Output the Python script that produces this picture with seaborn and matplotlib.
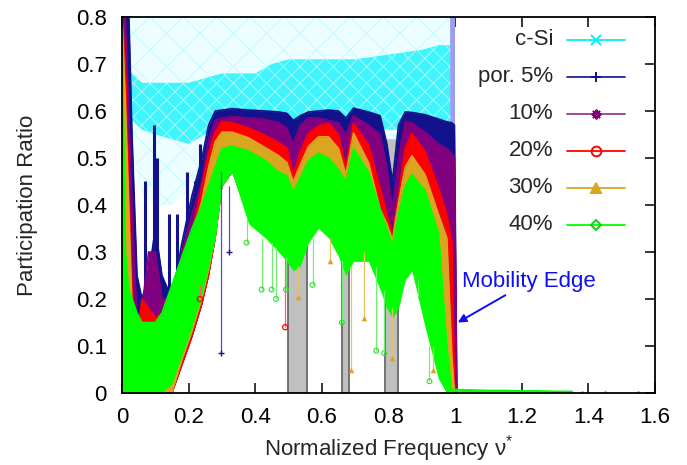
import numpy as np
import matplotlib
matplotlib.use("Agg")
import matplotlib.pyplot as plt
import seaborn as sns

sns.set_theme(style="ticks")
plt.rcParams["font.family"] = ["Liberation Sans", "DejaVu Sans"]
plt.rcParams["mathtext.fontset"] = "custom"
plt.rcParams["mathtext.rm"] = "Liberation Sans"
plt.rcParams["hatch.linewidth"] = 0.5

# ---------------- data ----------------
X = [0.000, 0.010, 0.020, 0.030, 0.045, 0.060, 0.080, 0.100, 0.120, 0.150,
     0.180, 0.210, 0.240, 0.260, 0.280, 0.300, 0.330, 0.380, 0.430, 0.470,
     0.495, 0.514, 0.535, 0.560, 0.590, 0.620, 0.650, 0.672, 0.695, 0.740,
     0.775, 0.795, 0.812, 0.830, 0.850, 0.870, 0.910, 0.950, 0.975, 0.990,
     0.998, 1.005]

BLUE_HI = [0.85, 0.85, 0.82, 0.55, 0.25, 0.20, 0.25, 0.35, 0.25, 0.20,
           0.32, 0.42, 0.50, 0.57, 0.600, 0.602, 0.605, 0.602, 0.600, 0.598,
           0.595, 0.580, 0.590, 0.598, 0.600, 0.602, 0.600, 0.585, 0.606, 0.598,
           0.590, 0.530, 0.450, 0.570, 0.598, 0.597, 0.592, 0.583, 0.577, 0.575,
           0.570, 0.0]
BLUE_LO = [0.0, 0.0, 0.0, 0.0, 0.0, 0.0, 0.0, 0.0, 0.0, 0.0,
           0.06, 0.12, 0.19, 0.25, 0.33, 0.44, 0.47, 0.37, 0.34, 0.31,
           0.29, 0.27, 0.28, 0.33, 0.36, 0.34, 0.30, 0.26, 0.29, 0.29,
           0.23, 0.19, 0.17, 0.19, 0.25, 0.27, 0.15, 0.04, 0.0, 0.0,
           0.0, 0.0]

PURPLE_HI = [0.85, 0.80, 0.60, 0.40, 0.15, 0.18, 0.30, 0.30, 0.20, 0.20,
             0.30, 0.38, 0.45, 0.54, 0.580, 0.585, 0.588, 0.585, 0.582, 0.575,
             0.564, 0.530, 0.570, 0.585, 0.585, 0.580, 0.575, 0.550, 0.590, 0.570,
             0.550, 0.480, 0.390, 0.500, 0.578, 0.575, 0.555, 0.530, 0.520, 0.510,
             0.500, 0.0]
PURPLE_LO = [0.0, 0.0, 0.0, 0.0, 0.0, 0.0, 0.0, 0.0, 0.0, 0.0,
             0.06, 0.12, 0.19, 0.25, 0.33, 0.44, 0.47, 0.37, 0.34, 0.31,
             0.29, 0.27, 0.28, 0.33, 0.36, 0.34, 0.30, 0.26, 0.29, 0.29,
             0.23, 0.19, 0.17, 0.19, 0.25, 0.27, 0.15, 0.04, 0.0, 0.0,
             0.0, 0.0]

RED_HI = [0.80, 0.70, 0.45, 0.22, 0.12, 0.20, 0.18, 0.16, 0.17, 0.22,
          0.28, 0.34, 0.44, 0.51, 0.555, 0.578, 0.575, 0.564, 0.548, 0.533,
          0.521, 0.464, 0.513, 0.553, 0.568, 0.574, 0.550, 0.480, 0.574, 0.527,
          0.436, 0.380, 0.335, 0.420, 0.520, 0.553, 0.513, 0.436, 0.380, 0.320,
          0.020, 0.0]
RED_LO = [0.0, 0.0, 0.0, 0.0, 0.0, 0.0, 0.0, 0.0, 0.0, 0.0,
          0.06, 0.12, 0.19, 0.25, 0.33, 0.44, 0.47, 0.37, 0.34, 0.31,
          0.29, 0.27, 0.28, 0.33, 0.36, 0.34, 0.30, 0.26, 0.29, 0.29,
          0.23, 0.19, 0.17, 0.19, 0.25, 0.27, 0.15, 0.04, 0.0, 0.0,
          0.0, 0.0]

ORANGE_HI = [0.80, 0.62, 0.40, 0.18, 0.12, 0.15, 0.14, 0.14, 0.16, 0.21,
             0.27, 0.33, 0.41, 0.48, 0.535, 0.555, 0.555, 0.543, 0.522, 0.505,
             0.490, 0.449, 0.485, 0.525, 0.545, 0.545, 0.520, 0.464, 0.553, 0.490,
             0.390, 0.360, 0.325, 0.405, 0.480, 0.505, 0.464, 0.380, 0.330, 0.080,
             0.0, 0.0]
ORANGE_LO = [0.0, 0.0, 0.0, 0.0, 0.0, 0.0, 0.0, 0.0, 0.0, 0.0,
             0.07, 0.13, 0.20, 0.26, 0.33, 0.44, 0.47, 0.37, 0.34, 0.31,
             0.29, 0.27, 0.28, 0.33, 0.36, 0.34, 0.30, 0.26, 0.29, 0.29,
             0.23, 0.19, 0.17, 0.19, 0.25, 0.27, 0.15, 0.04, 0.0, 0.0,
             0.0, 0.0]

GREEN_HI = [0.80, 0.30, 0.22, 0.20, 0.17, 0.15, 0.15, 0.15, 0.17, 0.23,
            0.29, 0.35, 0.40, 0.44, 0.48, 0.520, 0.525, 0.515, 0.495, 0.470,
            0.462, 0.428, 0.457, 0.495, 0.510, 0.500, 0.475, 0.449, 0.520, 0.470,
            0.390, 0.350, 0.315, 0.380, 0.440, 0.465, 0.430, 0.340, 0.100, 0.0,
            0.0, 0.0]
GREEN_LO = [0.0, 0.0, 0.0, 0.0, 0.0, 0.0, 0.0, 0.0, 0.0, 0.02,
            0.08, 0.14, 0.21, 0.27, 0.33, 0.44, 0.47, 0.36, 0.33, 0.30,
            0.28, 0.26, 0.27, 0.32, 0.35, 0.33, 0.29, 0.25, 0.28, 0.28,
            0.22, 0.18, 0.16, 0.18, 0.24, 0.26, 0.14, 0.03, 0.0, 0.0,
            0.0, 0.0]

# crystalline Si cloud
CSI_X = [0.010, 0.030, 0.060, 0.100, 0.150, 0.200, 0.250, 0.300, 0.400,
         0.450, 0.500, 0.600, 0.700, 0.800, 0.900, 0.950, 0.985]
CSI_DENSE_LO = [0.62, 0.58, 0.56, 0.55, 0.54, 0.53, 0.55, 0.58, 0.58,
                0.58, 0.57, 0.57, 0.57, 0.56, 0.56, 0.55, 0.55]
CSI_DENSE_HI = [0.70, 0.68, 0.66, 0.66, 0.66, 0.66, 0.67, 0.68, 0.68,
                0.70, 0.71, 0.71, 0.71, 0.72, 0.73, 0.74, 0.74]
CSI_SPARSE_LO = [0.60, 0.50, 0.42, 0.40, 0.40, 0.43, 0.48, 0.55, 0.56,
                 0.56, 0.55, 0.55, 0.55, 0.54, 0.54, 0.53, 0.53]
CSI_SPARSE_HI = [0.80, 0.80, 0.80, 0.80, 0.80, 0.80, 0.80, 0.80, 0.80,
                 0.80, 0.80, 0.80, 0.80, 0.80, 0.80, 0.80, 0.80]

# isolated spikes
BLUE_UP_X = [0.070, 0.095, 0.105, 0.140, 0.165, 0.195, 0.220, 0.235]
BLUE_UP_TOP = [0.45, 0.57, 0.50, 0.38, 0.38, 0.47, 0.45, 0.53]
BLUE_UP_BOT = [0.05, 0.10, 0.10, 0.10, 0.15, 0.25, 0.30, 0.35]
BLUE_DN_X = [0.296, 0.320]
BLUE_DN_TOP = [0.47, 0.44]
BLUE_DN_BOT = [0.085, 0.30]

GREEN_SPK_X = [0.374, 0.419, 0.449, 0.462, 0.492, 0.572, 0.660, 0.763, 0.787, 0.890, 0.923]
GREEN_SPK_TOP = [0.37, 0.33, 0.32, 0.31, 0.29, 0.33, 0.28, 0.27, 0.22, 0.20, 0.10]
GREEN_SPK_BOT = [0.32, 0.22, 0.22, 0.20, 0.22, 0.23, 0.15, 0.09, 0.085, 0.24, 0.025]

ORANGE_SPK_X = [0.528, 0.623, 0.686, 0.726, 0.811, 0.935]
ORANGE_SPK_TOP = [0.27, 0.33, 0.27, 0.30, 0.18, 0.10]
ORANGE_SPK_BOT = [0.205, 0.28, 0.05, 0.16, 0.075, 0.05]

RED_SPK_X = [0.234, 0.490]
RED_SPK_TOP = [0.23, 0.29]
RED_SPK_BOT = [0.20, 0.14]

TAIL_X = [0.985, 1.05, 1.10, 1.15, 1.20, 1.25, 1.30, 1.35]
TAIL_Y = [0.006, 0.005, 0.004, 0.004, 0.003, 0.003, 0.002, 0.002]
TAIL_DOT_X = [1.38, 1.45, 1.55]
TAIL_DOT_Y = [0.003, 0.003, 0.003]

GAPS = [(0.497, 0.554), (0.661, 0.682), (0.790, 0.829)]
EDGE_BAND = (0.984, 1.000)

LABELS = ["c-Si", "por. 5%", "10%", "20%", "30%", "40%"]
XTICKS = [0, 0.2, 0.4, 0.6, 0.8, 1.0, 1.2, 1.4, 1.6]
XTICK_LABELS = ["0", "0.2", "0.4", "0.6", "0.8", "1", "1.2", "1.4", "1.6"]
YTICKS = [0, 0.1, 0.2, 0.3, 0.4, 0.5, 0.6, 0.7, 0.8]
YTICK_LABELS = ["0", "0.1", "0.2", "0.3", "0.4", "0.5", "0.6", "0.7", "0.8"]

# ---------------- styles ----------------
C_CYAN = "#00f0f8"
C_NAVY = "#12128c"
C_PURPLE = "#800080"
C_RED = "#ff0000"
C_ORANGE = "#daa520"
C_GREEN = "#00ff00"

fig, ax = plt.subplots(figsize=(6.87, 4.65), dpi=100)
fig.subplots_adjust(left=122 / 687, right=655 / 687, top=1 - 17 / 465, bottom=1 - 393 / 465)

for lo, hi in GAPS:
    ax.axvspan(lo, hi, facecolor="#c0c0c0", edgecolor="#6a6a6a", lw=1.3, zorder=1)
ax.axvspan(EDGE_BAND[0], EDGE_BAND[1], facecolor="#9c9cf4", edgecolor="none", zorder=1.5)

# c-Si cloud: faint sparse halo plus denser core
ax.fill_between(CSI_X, CSI_SPARSE_LO, CSI_SPARSE_HI, facecolor="#ecfeff",
                edgecolor="#b4fafc", hatch="x", linewidth=0, zorder=2)
ax.fill_between(CSI_X, CSI_DENSE_LO, CSI_DENSE_HI, facecolor="#3ff4fa",
                edgecolor="#c8fcfe", hatch="xx", linewidth=0, zorder=2.1)

series = [
    (BLUE_LO, BLUE_HI, C_NAVY, 3),
    (PURPLE_LO, PURPLE_HI, C_PURPLE, 4),
    (RED_LO, RED_HI, C_RED, 5),
    (ORANGE_LO, ORANGE_HI, C_ORANGE, 6),
    (GREEN_LO, GREEN_HI, C_GREEN, 7),
]
for lo, hi, col, z in series:
    ax.fill_between(X, lo, hi, color=col, linewidth=0, zorder=z)
    sns.lineplot(x=X, y=hi, color=col, lw=1.2, estimator=None, ax=ax,
                 zorder=z, legend=False)

# blue spikes
ax.vlines(BLUE_UP_X, BLUE_UP_BOT, BLUE_UP_TOP, color=C_NAVY, lw=2.2, zorder=3.5)
ax.vlines(BLUE_DN_X, BLUE_DN_BOT, BLUE_DN_TOP, color="#5555b0", lw=0.9, zorder=7.5)
sns.scatterplot(x=BLUE_DN_X, y=BLUE_DN_BOT, marker="+", color=C_NAVY, s=25,
                linewidth=1, ax=ax, zorder=7.6, legend=False)

ax.vlines(RED_SPK_X, RED_SPK_BOT, RED_SPK_TOP, color="#ff6060", lw=0.9, zorder=7.5)
sns.scatterplot(x=RED_SPK_X, y=RED_SPK_BOT, marker="o", facecolor="none",
                edgecolor=C_RED, s=14, linewidth=0.9, ax=ax, zorder=7.6, legend=False)
ax.vlines(ORANGE_SPK_X, ORANGE_SPK_BOT, ORANGE_SPK_TOP, color="#e8c060", lw=0.9, zorder=7.5)
sns.scatterplot(x=ORANGE_SPK_X, y=ORANGE_SPK_BOT, marker="^", color=C_ORANGE,
                s=16, linewidth=0, ax=ax, zorder=7.6, legend=False)
ax.vlines(GREEN_SPK_X, GREEN_SPK_BOT, GREEN_SPK_TOP, color="#70f070", lw=0.9, zorder=7.5)
sns.scatterplot(x=GREEN_SPK_X, y=GREEN_SPK_BOT, marker="o", facecolor="none",
                edgecolor="#30e030", s=12, linewidth=0.8, ax=ax, zorder=7.6, legend=False)

# tail beyond the mobility edge
sns.lineplot(x=TAIL_X, y=TAIL_Y, color=C_GREEN, lw=2.2, estimator=None, ax=ax,
             zorder=7, legend=False)
sns.scatterplot(x=TAIL_DOT_X, y=TAIL_DOT_Y, marker="o", color=C_GREEN, s=4,
                linewidth=0, ax=ax, zorder=7, legend=False)

# annotation
ax.annotate("Mobility Edge", xy=(1.008, 0.150), xytext=(1.105, 0.200),
            textcoords="data", fontsize=16, color="#0f0ff5", ha="left", va="bottom",
            arrowprops=dict(arrowstyle="-|>", color="#0f0ff5", lw=1.4,
                            mutation_scale=12, shrinkA=0, shrinkB=0),
            zorder=10)
ax.texts[-1].set_position((1.022, 0.215))

# axes
ax.set_xlim(0, 1.6)
ax.set_ylim(0, 0.8)
ax.set_xticks(XTICKS)
ax.set_xticklabels(XTICK_LABELS)
ax.set_yticks(YTICKS)
ax.set_yticklabels(YTICK_LABELS)
ax.tick_params(direction="in", length=7, width=1.1, top=True, right=True,
               labelsize=16, colors="black")
ax.tick_params(axis="y", pad=11)
ax.tick_params(axis="x", pad=10)
for sp in ax.spines.values():
    sp.set_visible(True)
    sp.set_color("black")
    sp.set_linewidth(1.3)
    sp.set_zorder(12)

ax.set_xlabel("Normalized Frequency ν$^{\\mathregular{*}}$", fontsize=16, labelpad=4)
ax.set_ylabel("Participation Ratio", fontsize=16, labelpad=27)

# gnuplot-style key (text right aligned, sample on the right)
key_styles = [
    (C_CYAN, "x", C_CYAN, C_CYAN),
    ("#20209a", "+", C_NAVY, C_NAVY),
    ("#9a3a9a", (8, 2, 0), C_PURPLE, C_PURPLE),
    (C_RED, "o", "none", C_RED),
    (C_ORANGE, "^", C_ORANGE, C_ORANGE),
    (C_GREEN, "D", "none", "#10d010"),
]
for i, (lab, (lc, mk, mfc, mec)) in enumerate(zip(LABELS, key_styles)):
    yy = 0.939 - i * 0.0984
    ax.text(0.8087, yy, lab, transform=ax.transAxes, ha="right", va="center",
            fontsize=16, zorder=20)
    ax.plot([0.835, 0.944], [yy, yy], transform=ax.transAxes, color=lc, lw=1.3,
            zorder=20, clip_on=False)
    ax.plot([0.889], [yy], transform=ax.transAxes, marker=mk, ms=7 if mk != "D" else 5,
            mfc=mfc, mec=mec, mew=1.4, color=lc, zorder=21, clip_on=False)

fig.savefig("out.png", dpi=100)
